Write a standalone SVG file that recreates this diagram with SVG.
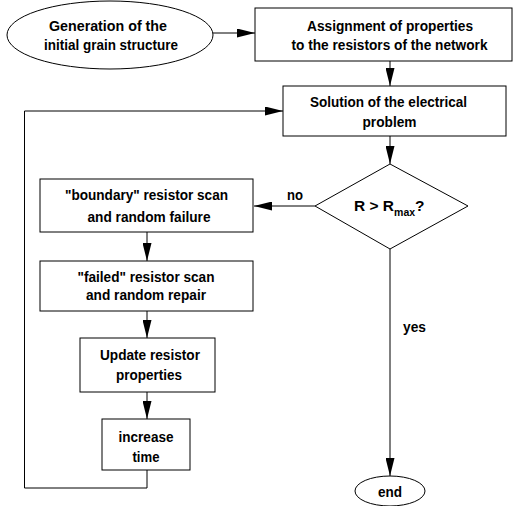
<svg xmlns="http://www.w3.org/2000/svg" width="516" height="506" viewBox="0 0 516 506">
<style>
.n{fill:#fff;stroke:#000;stroke-width:1}
.t{font-family:"Liberation Sans",Arial,Helvetica,sans-serif;font-weight:bold;font-size:15.5px;fill:#000;text-anchor:middle}
.l{font-family:"Liberation Sans",Arial,Helvetica,sans-serif;font-weight:bold;font-size:15.5px;fill:#000}
.c{fill:none;stroke:#000;stroke-width:1}
</style>
<defs>
<marker id="a" markerUnits="userSpaceOnUse" markerWidth="18" markerHeight="9" refX="18" refY="4.5" orient="auto">
<path d="M0,0 L18,4.5 L0,9 Z" fill="#000"/>
</marker>
</defs>
<rect width="516" height="506" fill="#fff"/>
<g id="connectors">
<line class="c" x1="213" y1="33" x2="255" y2="33" marker-end="url(#a)"/>
<line class="c" x1="390" y1="61" x2="390" y2="86" marker-end="url(#a)"/>
<line class="c" x1="390" y1="136" x2="390" y2="164" marker-end="url(#a)"/>
<line class="c" x1="315" y1="206" x2="254" y2="206" marker-end="url(#a)"/>
<line class="c" x1="147" y1="232" x2="147" y2="261" marker-end="url(#a)"/>
<line class="c" x1="147" y1="311" x2="147" y2="338" marker-end="url(#a)"/>
<line class="c" x1="147" y1="392" x2="147" y2="419" marker-end="url(#a)"/>
<polyline class="c" points="147,470 147,488 24.5,488 24.5,111 283,111" marker-end="url(#a)"/>
<line class="c" x1="390" y1="249" x2="390" y2="476" marker-end="url(#a)"/>
<text class="l" x="287" y="200" textLength="16" lengthAdjust="spacingAndGlyphs">no</text>
<text class="l" x="403" y="332" textLength="23" lengthAdjust="spacingAndGlyphs">yes</text>
</g>
<g id="start">
<ellipse class="n" cx="110" cy="35" rx="103" ry="34"/>
<text class="t" x="108" y="31" textLength="118" lengthAdjust="spacingAndGlyphs">Generation of the</text>
<text class="t" x="111" y="50" textLength="134" lengthAdjust="spacingAndGlyphs">initial grain structure</text>
</g>
<g id="assign">
<rect class="n" x="255" y="8" width="257" height="53"/>
<text class="t" x="390" y="31" textLength="166" lengthAdjust="spacingAndGlyphs">Assignment of properties</text>
<text class="t" x="389.5" y="50" textLength="196" lengthAdjust="spacingAndGlyphs">to the resistors of the network</text>
</g>
<g id="solve">
<rect class="n" x="283" y="86" width="223" height="50"/>
<text class="t" x="388.5" y="107" textLength="157" lengthAdjust="spacingAndGlyphs">Solution of the electrical</text>
<text class="t" x="389.5" y="127" textLength="54" lengthAdjust="spacingAndGlyphs">problem</text>
</g>
<g id="decision">
<polygon class="n" points="390,164 468,206 390,249 315,206"/>
<text class="l" x="354" y="211" font-size="15">R &gt; R<tspan font-size="10.5" dy="5">max</tspan><tspan dy="-5">?</tspan></text>
</g>
<g id="boundary">
<rect class="n" x="40" y="179" width="213" height="53"/>
<text class="t" x="146.5" y="200" textLength="163" lengthAdjust="spacingAndGlyphs">"boundary" resistor scan</text>
<text class="t" x="149" y="222" textLength="123" lengthAdjust="spacingAndGlyphs">and random failure</text>
</g>
<g id="failed">
<rect class="n" x="40" y="261" width="213" height="50"/>
<text class="t" x="146" y="282" textLength="137" lengthAdjust="spacingAndGlyphs">"failed" resistor scan</text>
<text class="t" x="146" y="300" textLength="120" lengthAdjust="spacingAndGlyphs">and random repair</text>
</g>
<g id="update">
<rect class="n" x="80" y="338" width="135" height="54"/>
<text class="t" x="150" y="360" textLength="100" lengthAdjust="spacingAndGlyphs">Update resistor</text>
<text class="t" x="149" y="380" textLength="66" lengthAdjust="spacingAndGlyphs">properties</text>
</g>
<g id="time">
<rect class="n" x="102" y="419" width="88" height="51"/>
<text class="t" x="146" y="442" textLength="55" lengthAdjust="spacingAndGlyphs">increase</text>
<text class="t" x="146" y="462" textLength="27" lengthAdjust="spacingAndGlyphs">time</text>
</g>
<g id="end">
<ellipse class="n" cx="390" cy="491" rx="35" ry="15"/>
<text class="t" x="390" y="497" textLength="24" lengthAdjust="spacingAndGlyphs">end</text>
</g>
</svg>
